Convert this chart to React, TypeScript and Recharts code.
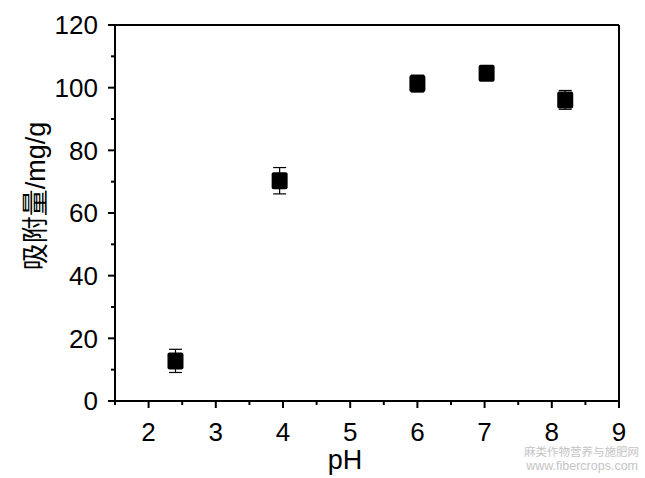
import { ScatterChart, Scatter, XAxis, YAxis, ErrorBar, ReferenceLine } from 'recharts';

const phValues = [2.4, 3.95, 6.0, 7.03, 8.2];
const adsorption = [12.8, 70.3, 101.3, 104.6, 96.1];
const errors = [3.7, 4.2, 2.7, 2.0, 3.0];

const xMajorTicks = [2, 3, 4, 5, 6, 7, 8, 9];
const xMinorTicks = [1.5, 2.5, 3.5, 4.5, 5.5, 6.5, 7.5, 8.5];
const yMajorTicks = [0, 20, 40, 60, 80, 100, 120];
const yMinorTicks = [10, 30, 50, 70, 90, 110];

const xLabel = 'pH';
const yLabel = '吸附量/mg/g';
const watermark = ['麻类作物营养与施肥网', 'www.fibercrops.com'];

const FONT = '"Liberation Sans", Arial, "Noto Sans CJK SC", sans-serif';

const data = phValues.map((ph, i) => ({ ph, q: adsorption[i], err: errors[i] }));

function XTick(props: any) {
  const { x, y, payload } = props;
  const major = xMajorTicks.includes(payload.value);
  return (
    <g>
      <line x1={x} x2={x} y1={y} y2={y + (major ? 7 : 4)} stroke="#000" strokeWidth={2} />
      {major && (
        <text x={x} y={y + 40} textAnchor="middle" fontSize={26} fontFamily={FONT} fill="#000">
          {payload.value}
        </text>
      )}
    </g>
  );
}

function YTick(props: any) {
  const { x, y, payload } = props;
  const major = yMajorTicks.includes(payload.value);
  return (
    <g>
      <line x1={x} x2={x - (major ? 7 : 4)} y1={y} y2={y} stroke="#000" strokeWidth={2} />
      {major && (
        <text x={x - 17} y={y} dy="0.36em" textAnchor="end" fontSize={26} fontFamily={FONT} fill="#000">
          {payload.value}
        </text>
      )}
    </g>
  );
}

function Marker(props: any) {
  const { cx, cy } = props;
  return <rect x={cx - 8} y={cy - 8.5} width={16} height={17} rx={2} fill="#000" />;
}

export default function App() {
  const xTicks = [...xMajorTicks, ...xMinorTicks].sort((a, b) => a - b);
  const yTicks = [...yMajorTicks, ...yMinorTicks].sort((a, b) => a - b);

  return (
    <div style={{ position: 'absolute', left: 0, top: 0, width: 645, height: 478, background: '#fff' }}>
      <ScatterChart width={645} height={478} margin={{ top: 25, right: 26, bottom: 0, left: 0 }}>
        <XAxis
          type="number"
          dataKey="ph"
          domain={[1.5, 9]}
          ticks={xTicks}
          interval={0}
          tick={<XTick />}
          tickLine={false}
          tickSize={0}
          tickMargin={0}
          height={77}
          axisLine={{ stroke: '#000', strokeWidth: 2 }}
          allowDataOverflow
          label={(p: any) => {
            const vb = p.viewBox;
            return (
              <text x={vb.x + vb.width / 2 - 22} y={vb.y + 68} textAnchor="middle" fontSize={27} fontFamily={FONT} fill="#000">
                {xLabel}
              </text>
            );
          }}
        />
        <YAxis
          type="number"
          dataKey="q"
          domain={[0, 120]}
          ticks={yTicks}
          interval={0}
          tick={<YTick />}
          tickLine={false}
          tickSize={0}
          tickMargin={0}
          width={115}
          axisLine={{ stroke: '#000', strokeWidth: 2 }}
          allowDataOverflow
          label={(p: any) => {
            const vb = p.viewBox;
            const cx = 35;
            const cy = vb.y + vb.height / 2 - 17;
            return (
              <text
                x={cx}
                y={cy}
                dy="0.36em"
                textAnchor="middle"
                fontSize={27}
                fontFamily={FONT}
                fill="#000"
                transform={`rotate(-90 ${cx} ${cy})`}
              >
                {yLabel}
              </text>
            );
          }}
        />
        <ReferenceLine y={120} stroke="#000" strokeWidth={2} />
        <ReferenceLine x={9} stroke="#000" strokeWidth={2} />
        <Scatter data={data} fill="#000" shape={<Marker />} isAnimationActive={false}>
          <ErrorBar dataKey="err" direction="y" width={6.5} stroke="#000" strokeWidth={1.2} />
        </Scatter>
      </ScatterChart>
      <svg width={645} height={478} style={{ position: 'absolute', left: 0, top: 0, pointerEvents: 'none' }}>
        <text x={639} y={456} textAnchor="end" fontSize={11.5} fontFamily={FONT} fill="#c4c4c4">
          {watermark[0]}
        </text>
        <text x={638} y={470} textAnchor="end" fontSize={12.5} fontFamily={FONT} fill="#c4c4c4">
          {watermark[1]}
        </text>
      </svg>
    </div>
  );
}
